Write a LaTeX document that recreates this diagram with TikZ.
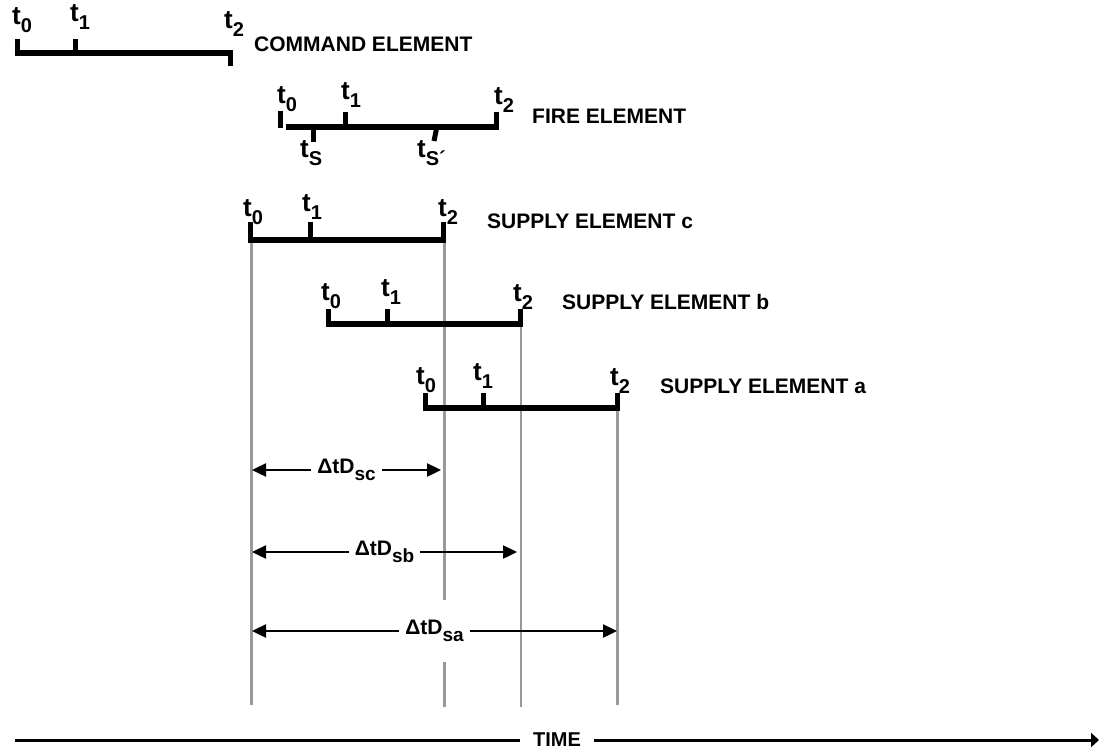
\documentclass[tikz,border=0pt]{standalone}
\usepackage{fontspec}
\setmainfont{Liberation Sans}
\usetikzlibrary{arrows.meta}
\newcommand\tlab[1]{t\raisebox{-8pt}{\fontsize{20}{20}\selectfont #1}}
\newcommand\dlab[1]{ΔtD\raisebox{-7pt}{\fontsize{19}{19}\selectfont #1}}
\begin{document}
\begin{tikzpicture}[x=1pt,y=-1pt,
  bar/.style={line width=6pt},
  tick/.style={line width=5pt},
  guide/.style={black!40,line width=2.2pt},
  dim/.style={line width=2.4pt,{Triangle[length=14pt,width=13pt]}-{Triangle[length=14pt,width=13pt]}},
  dlabel/.style={fill=white,inner xsep=6pt,inner ysep=20pt,font=\fontsize{21}{21}\selectfont\bfseries},
  tl/.style={anchor=base west,inner sep=0pt,font=\fontsize{26}{26}\selectfont\bfseries},
  el/.style={anchor=west,inner sep=0pt,font=\fontsize{21}{21}\selectfont\bfseries},
  timelab/.style={fill=white,inner xsep=13pt,font=\fontsize{20}{20}\selectfont\bfseries}]
\useasboundingbox (0,0) rectangle (1099,749);
% guides
\draw[guide] (251.5,241) coordinate (gc0) -- (251.5,705) coordinate (gc0e);
\draw[guide] (444.5,241) coordinate (gc2) -- (444.5,707) coordinate (gc2e);
\draw[guide] (521,325) coordinate (gb2) -- (521,707) coordinate (gb2e);
\draw[guide] (617.5,409) coordinate (ga2) -- (617.5,705) coordinate (ga2e);
% command element
\draw[tick] (17,39) -- (17,55);
\draw[tick] (75,39) -- (75,53);
\draw[tick] (230,53) -- (230,66);
\draw[bar] (14.5,53) -- (232.5,53);
\node[tl] (c0) at (12,25) {\tlab{0}};
\node[tl] (c1) at (70,22) {\tlab{1}};
\node[tl] (c2) at (224,29) {\tlab{2}};
\node[el] (cl) at (254,44) {COMMAND ELEMENT};
% fire element
\draw[tick] (280,111) -- (280,128);
\draw[tick] (345,112) -- (345,126);
\draw[tick] (496,112) -- (496,130);
\draw[tick] (313,126) -- (313,142);
\draw[tick] (437,126) -- (434,141);
\draw[bar] (286,126.5) -- (498.5,126.5);
\node[tl] (f0) at (277,103) {\tlab{0}};
\node[tl] (f1) at (341,100) {\tlab{1}};
\node[tl] (f2) at (494,105) {\tlab{2}};
\node[el] (fl) at (532,116) {FIRE ELEMENT};
\node[tl] (fs) at (300,157) {\tlab{S}};
\node[tl] (fsp) at (417,157) {\tlab{S´}};
% supply c
\draw[tick] (250.5,222) -- (250.5,239);
\draw[tick] (310,222) -- (310,239);
\draw[tick] (443,222) -- (443,239);
\draw[bar] (248,239.5) -- (445.5,239.5);
\node[tl] (sc0) at (243,216) {\tlab{0}};
\node[tl] (sc1) at (302,211) {\tlab{1}};
\node[tl] (sc2) at (438,216) {\tlab{2}};
\node[el] (scl) at (487,221) {SUPPLY ELEMENT c};
% supply b
\draw[tick] (328,309) -- (328,324);
\draw[tick] (387,309) -- (387,323);
\draw[tick] (520,309) -- (520,323);
\draw[bar] (325.5,323.5) -- (522.5,323.5);
\node[tl] (sb0) at (321,300) {\tlab{0}};
\node[tl] (sb1) at (381,296) {\tlab{1}};
\node[tl] (sb2) at (513,301) {\tlab{2}};
\node[el] (sbl) at (562,302) {SUPPLY ELEMENT b};
% supply a
\draw[tick] (425,393) -- (425,408);
\draw[tick] (483,393) -- (483,407);
\draw[tick] (617,393) -- (617,407);
\draw[bar] (422.5,407.5) -- (619.5,407.5);
\node[tl] (sa0) at (416,384) {\tlab{0}};
\node[tl] (sa1) at (473,380) {\tlab{1}};
\node[tl] (sa2) at (610,385) {\tlab{2}};
\node[el] (sal) at (660,386) {SUPPLY ELEMENT a};
% dimension arrows
\coordinate (dsc1) at (252,470); \coordinate (dsc2) at (441,470);
\coordinate (dsb1) at (252,552); \coordinate (dsb2) at (517,552);
\coordinate (dsa1) at (252,631); \coordinate (dsa2) at (617,631);
\draw[dim] (dsc1) -- node[dlabel] (lsc) {\dlab{sc}} (dsc2);
\draw[dim] (dsb1) -- node[dlabel] (lsb) {\dlab{sb}} (dsb2);
\draw[dim] (dsa1) -- node[dlabel] (lsa) {\dlab{sa}} (dsa2);
% time axis
\coordinate (ts) at (15,740); \coordinate (te) at (1099,740);
\draw[line width=3pt,-{Triangle[length=8pt,width=14pt]}] (ts) -- node[timelab] (tl) {TIME} (te);
\end{tikzpicture}
\end{document}
